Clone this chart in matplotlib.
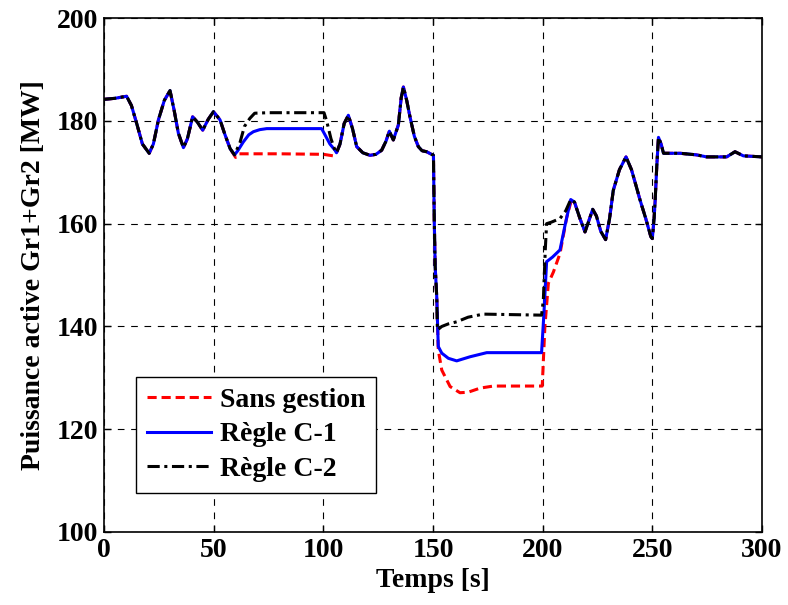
import numpy as np
import matplotlib
matplotlib.use("Agg")
import matplotlib.pyplot as plt

# ---- data ----
t_common_a = [0, 5, 10.3, 12.5, 14.9, 17.5, 20.6, 22.5, 24.8, 27.5, 30.1, 32, 33.9,
              36.2, 38, 40.4, 42.5, 45, 47.5, 49.9, 52.9, 55, 57.5]
p_common_a = [184.2, 184.4, 184.8, 183, 179.5, 175.5, 173.7, 175.5, 180.2, 184, 185.9, 182,
              177.6, 174.8, 176.5, 180.8, 179.8, 178.2, 180.3, 181.8, 180.2, 177.5, 174.6]

t_common_b = [106, 107.6, 109.5, 111.4, 113.3, 115.2, 118, 121.3, 124, 126.6, 128.5,
              130.1, 131.9, 134.2, 135.5, 136.5, 138, 139.5, 141.5, 143.3, 145, 147.1,
              150.2, 150.6, 151, 151.7]
p_common_b = [173.8, 175.5, 179.5, 181.1, 178.5, 175, 173.8, 173.3, 173.5, 174.3, 176,
              178, 176.3, 179.2, 184.5, 186.6, 184, 180.8, 177, 175, 174.2, 174,
              173.3, 160, 151.6, 145.8]

t_common_c = [214.5, 217, 219.3, 221, 222.8, 224.5, 226.5, 228.7, 230.5, 232.2, 235, 238,
              240.5, 242.5, 244.4, 247, 249.3, 250, 250.8, 251.3, 252, 252.8, 254, 255.1,
              258, 262.7, 270, 274.8, 283.9, 287.7, 291.5, 300]
p_common_c = [164.2, 161, 158.4, 160.5, 162.8, 161.5, 158.5, 156.9, 161, 166.5, 170.5, 173,
              170.5, 167.5, 164.6, 161, 157.5, 157.1, 161, 164.6, 171, 176.8, 175.5, 173.7,
              173.7, 173.7, 173.4, 173.0, 173.0, 174.0, 173.2, 173.0]

# Sans gestion
t_sg_1 = [60, 61.5, 80, 100, 103, 104.5]
p_sg_1 = [172.9, 173.6, 173.6, 173.5, 173.3, 173.2]
t_sg_2 = [152.4, 154, 157.8, 162.3, 166, 171.5, 177.5, 199.8, 201, 202.6, 204.9, 207.9,
          211, 213.2]
p_sg_2 = [135.4, 131.5, 128.3, 127.1, 127.2, 128, 128.4, 128.4, 139.9, 148.4, 150.6,
          154.2, 161.3, 164.7]

# Règle C-1
t_c1_1 = [59.5, 61, 63.5, 66, 68.1, 71, 74.2, 99.2, 100.5, 103, 105.3]
p_c1_1 = [173.4, 174.2, 175.9, 177.3, 177.9, 178.3, 178.5, 178.5, 177.5, 175.5, 174.3]
t_c1_2 = [152.4, 154, 157, 160.8, 166.9, 174.5, 199.5, 200.5, 201.8, 204.5, 207.9,
          210.2, 212.8]
p_c1_2 = [136.1, 134.8, 133.8, 133.3, 134.1, 134.9, 134.9, 142, 152.6, 153.5, 154.9,
          159.7, 164.7]

# Règle C-2
t_c2_1 = [59.5, 62, 64, 66.5, 68.7, 75, 100.3, 101.5, 103.5, 105.3]
p_c2_1 = [173.4, 175.8, 178.9, 180.5, 181.5, 181.6, 181.6, 180, 176.5, 174.3]
t_c2_2 = [152, 154, 157, 160.8, 166, 172.9, 199.5, 200.3, 201.2, 201.8, 204, 207.9,
          210.5, 212.8]
p_c2_2 = [139.3, 140, 140.5, 140.9, 141.8, 142.4, 142.2, 145.1, 155, 160, 160.3, 161,
          162.5, 164.7]

labels = ["Sans gestion", "Règle C-1", "Règle C-2"]
xticks = [0, 50, 100, 150, 200, 250, 300]
yticks = [100, 120, 140, 160, 180, 200]


def series(t1, p1, t2, p2):
    t = t_common_a + t1 + t_common_b + t2 + t_common_c
    p = p_common_a + p1 + p_common_b + p2 + p_common_c
    return np.array(t), np.array(p)


t_sg, p_sg = series(t_sg_1, p_sg_1, t_sg_2, p_sg_2)
t_c1, p_c1 = series(t_c1_1, p_c1_1, t_c1_2, p_c1_2)
t_c2, p_c2 = series(t_c2_1, p_c2_1, t_c2_2, p_c2_2)

# ---- figure ----
plt.rcParams['font.family'] = ['Liberation Serif', 'DejaVu Serif']
plt.rcParams['font.weight'] = 'bold'
FS = 20

fig = plt.figure(figsize=(7.88, 6.05), dpi=100)
ax = fig.add_axes([0.132, 0.1207, 0.835, 0.8493])

ax.plot(t_sg, p_sg, color='#ff0000', linestyle=(0, (3.0, 1.6)), lw=2.2, label=labels[0])
ax.plot(t_c1, p_c1, color='#0000ff', linestyle='-', lw=2.2, label=labels[1])
ax.plot(t_c2, p_c2, color='black', linestyle=(0, (4.0, 1.5, 1.0, 1.5)), lw=2.2, label=labels[2])

ax.set_xlim(0, 300)
ax.set_ylim(100, 200)
ax.set_xticks(xticks)
ax.set_yticks(yticks)
ax.tick_params(direction='in', length=5, width=1, labelsize=FS, top=True, right=True, pad=4)
for lab in ax.get_xticklabels() + ax.get_yticklabels():
    lab.set_fontweight('bold')
ax.grid(True, color='black', linestyle=(0, (6, 6)), lw=0.8)
for s in ax.spines.values():
    s.set_linewidth(1.2)

ax.set_xlabel("Temps [s]", fontsize=FS, fontweight='bold', labelpad=4)
ax.set_ylabel("Puissance active Gr1+Gr2 [MW]", fontsize=FS, fontweight='bold', labelpad=8)

leg = ax.legend(loc='lower left', bbox_to_anchor=(0.049, 0.076), borderaxespad=0,
                fontsize=FS, frameon=True, fancybox=False, framealpha=1,
                edgecolor='black', handlelength=2.3, handletextpad=0.3,
                labelspacing=0.32, borderpad=0.4)
leg.get_frame().set_linewidth(1.0)
for txt in leg.get_texts():
    txt.set_fontweight('bold')

fig.savefig("out.png", dpi=100)
